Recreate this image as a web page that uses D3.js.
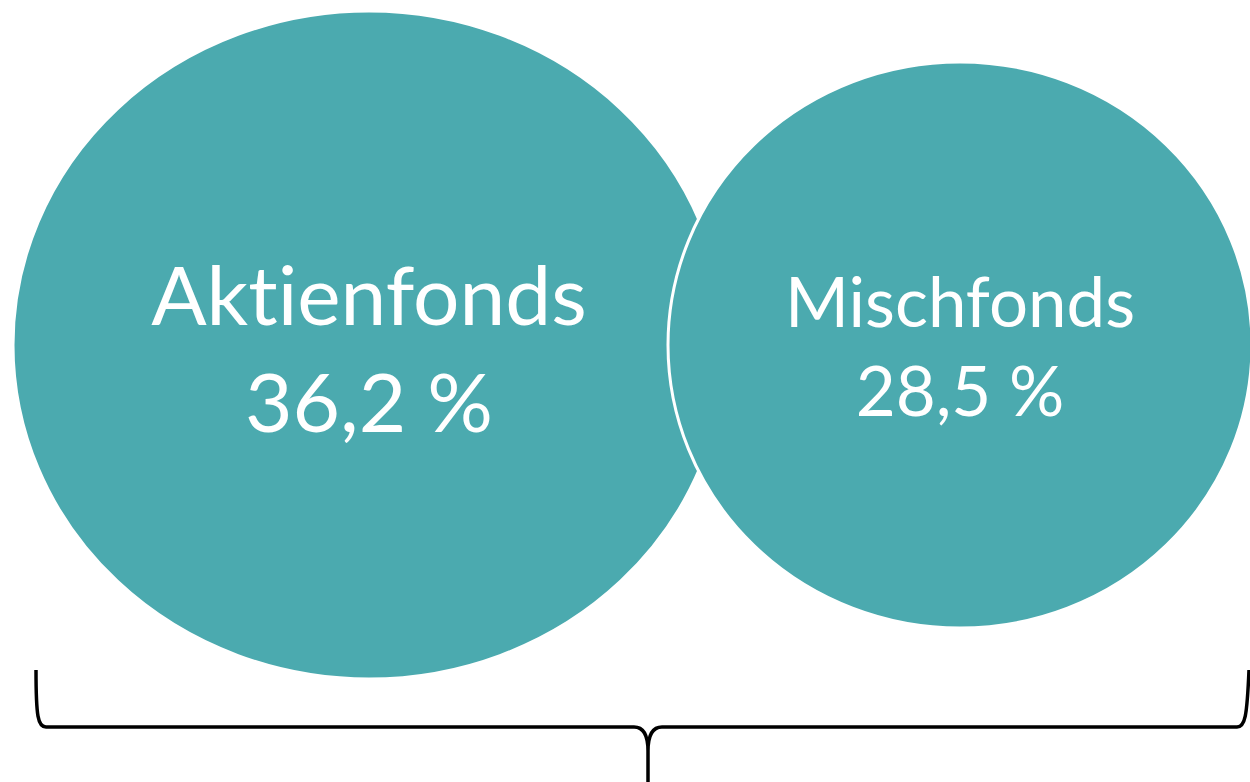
<!DOCTYPE html>
<html>
<head>
<meta charset="utf-8">
<script src="https://cdn.jsdelivr.net/npm/d3@7"></script>
<style>
  body { margin: 0; background: #fff; }
  svg { display: block; }
  text { font-variant-ligatures: none; }
</style>
</head>
<body>
<div class="chart"></div>
<script>
// Fund categories and their shares (in %)
var categories = ["Aktienfonds", "Mischfonds"];
var shares = [36.2, 28.5];

var svgWidth = 1250;
var svgHeight = 782;

var svg = d3.select(".chart")
  .append("svg")
  .attr("width", svgWidth)
  .attr("height", svgHeight);

var data = categories.map(function(c, i) {
  return { name: c, value: shares[i] };
});

// German number format: 36,2 %
var de = d3.formatLocale({ decimal: ",", thousands: ".", grouping: [3], currency: ["", " €"] });
var fmt = de.format(".1f");

// scales
var xScale = d3.scalePoint()
  .domain(categories)
  .range([369, 960]);
var rxScale = d3.scaleLinear()
  .domain(d3.extent(shares))
  .range([292, 356]);
var ryScale = d3.scaleLinear()
  .domain(d3.extent(shares))
  .range([283, 334]);
var fontScale = d3.scaleLinear()
  .domain(d3.extent(shares))
  .range([69, 82]);
var cy = 345;

var bubbles = svg.selectAll("g.bubble")
  .data(data)
  .enter()
  .append("g")
  .attr("class", "bubble")
  .attr("transform", d => `translate(${xScale(d.name)}, ${cy})`);

bubbles.append("ellipse")
  .attr("rx", d => rxScale(d.value))
  .attr("ry", d => ryScale(d.value))
  .attr("fill", "#4BAAAF")
  .attr("stroke", "#fff")
  .attr("stroke-width", 3);

var labels = bubbles.append("text")
  .attr("text-anchor", "middle")
  .attr("fill", "#fff")
  .attr("font-family", "Lato, 'Open Sans', sans-serif")
  .attr("font-size", d => fontScale(d.value) + "px");

labels.append("tspan")
  .attr("x", 0)
  .attr("y", d => d.value > 30 ? -20 : -18)
  .text(d => d.name);
labels.append("tspan")
  .attr("x", 0)
  .attr("y", d => d.value > 30 ? 87 : 71)
  .text(d => fmt(d.value) + " %");

// curly brace under the bubbles
var bLeft = 36, bRight = 1247, bTip = 648, bTop = 670, bMid = 727, bBottom = 782;
var bracePath = d3.path();
bracePath.moveTo(bLeft, bTop);
bracePath.bezierCurveTo(bLeft, bMid - 10, bLeft + 2, bMid, bLeft + 10, bMid);
bracePath.lineTo(bTip - 14, bMid);
bracePath.bezierCurveTo(bTip - 4, bMid, bTip, bMid + 10, bTip, bMid + 24);
bracePath.lineTo(bTip, bBottom);
bracePath.moveTo(bTip, bMid + 24);
bracePath.bezierCurveTo(bTip, bMid + 10, bTip + 4, bMid, bTip + 14, bMid);
bracePath.lineTo(bRight - 10, bMid);
bracePath.bezierCurveTo(bRight - 2, bMid, bRight, bMid - 10, bRight + 2, bTop);

svg.append("path")
  .attr("d", bracePath.toString())
  .attr("fill", "none")
  .attr("stroke", "#000")
  .attr("stroke-width", 3.5);
</script>
</body>
</html>
